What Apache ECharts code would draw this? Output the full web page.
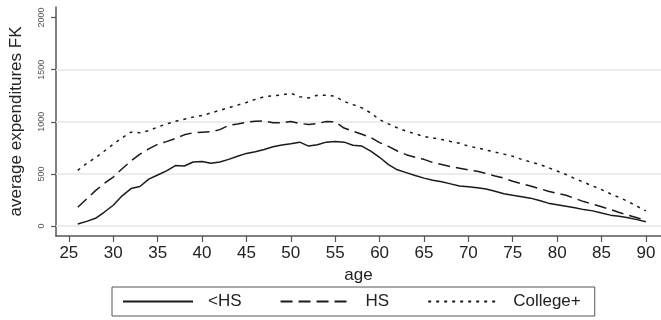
<!DOCTYPE html>
<html>
<head>
<meta charset="utf-8">
<script src="https://cdn.jsdelivr.net/npm/echarts@6/dist/echarts.min.js"></script>
<style>html,body{margin:0;padding:0;background:#fff}#c{width:661px;height:320px}</style>
</head>
<body>
<div id="c"></div>
<script>
const ages = [];
for (let a = 26; a <= 90; a++) ages.push(a);
const lessHS = [20,45,75,135,200,290,360,380,450,490,530,580,576,615,620,602,615,640,670,697,712,735,760,778,790,805,767,780,805,812,805,775,767,719,660,590,540,513,485,460,440,425,405,385,378,368,355,335,310,295,282,268,245,220,205,190,175,158,146,125,105,95,80,62,41];
const hs = [181,260,340,410,470,550,624,690,740,785,810,840,875,895,901,905,925,965,980,996,1005,1009,990,990,1003,985,974,984,1003,1000,940,910,880,850,800,765,720,685,660,640,610,590,570,555,540,525,505,480,460,430,405,385,360,335,315,295,265,235,210,185,160,131,105,80,51];
const college = [535,600,656,720,785,847,901,895,915,950,980,1005,1025,1045,1060,1085,1110,1135,1160,1185,1215,1240,1250,1258,1274,1240,1229,1254,1254,1245,1195,1165,1134,1085,1020,980,942,910,885,860,845,830,812,795,767,750,729,710,690,670,640,615,592,560,528,495,455,420,385,350,310,274,235,190,146];
const xTicks = [25,30,35,40,45,50,55,60,65,70,75,80,85,90];
const yTicks = [0,500,1000,1500,2000];
const gridVals = [0,500,1000,1500];
const seriesNames = ['<HS','HS','College+'];

const FONT = 'Liberation Sans, Arial, Helvetica, sans-serif';
const pair = arr => ages.map((a,i)=>[a,arr[i]]);
const chart = echarts.init(document.getElementById('c'), null, {renderer:'canvas'});
const lineCol = '#1a1a1a';
chart.setOption({
  animation:false,
  backgroundColor:'#fff',
  grid:{left:53,right:0,top:7,bottom:84,containLabel:false},
  xAxis:{
    type:'value', min:23.55, max:91.7,
    name:'age', nameLocation:'middle', nameGap:28,
    nameTextStyle:{fontFamily:FONT,fontSize:17,color:'#222'},
    axisLine:{onZero:false,lineStyle:{color:'#555',width:1.5}},
    axisTick:{show:true,length:6,customValues:xTicks,lineStyle:{color:'#555',width:1.2}},
    axisLabel:{customValues:xTicks,fontFamily:FONT,fontSize:17,color:'#222',margin:9},
    splitLine:{show:false}
  },
  yAxis:{
    type:'value', min:-95, max:2101,
    name:'average expenditures FK', nameLocation:'middle', nameGap:31,
    nameTextStyle:{fontFamily:FONT,fontSize:17,color:'#222'},
    axisLine:{show:true,onZero:false,lineStyle:{color:'#555',width:1.5}},
    axisTick:{show:true,length:5,customValues:yTicks,lineStyle:{color:'#555',width:1.2}},
    axisLabel:{customValues:yTicks,rotate:90,fontFamily:FONT,fontSize:9,color:'#555',margin:10,
      formatter:v=>String(v)},
    splitLine:{show:false}
  },
  legend:{
    left:112, top:287,
    padding:[6,14,6,10],
    borderColor:'#555', borderWidth:1,
    itemWidth:70, itemHeight:14, itemGap:38,
    itemStyle:{opacity:0},
    textStyle:{fontFamily:FONT,fontSize:17,color:'#222',padding:[0,0,0,10]},
    data:seriesNames
  },
  series:[
    {name:'grid',type:'line',data:[],silent:true,
     markLine:{silent:true,symbol:'none',label:{show:false},
       lineStyle:{color:'#e6e6e6',width:1.5,type:'solid'},
       data:gridVals.map(v=>({yAxis:v}))}},
    {name:seriesNames[0],type:'line',data:pair(lessHS),showSymbol:false,symbol:'none',
     lineStyle:{color:lineCol,width:1.5,type:'solid'},itemStyle:{color:lineCol},z:5},
    {name:seriesNames[1],type:'line',data:pair(hs),showSymbol:false,symbol:'none',
     lineStyle:{color:lineCol,width:1.5,type:[12,6]},itemStyle:{color:lineCol},z:5},
    {name:seriesNames[2],type:'line',data:pair(college),showSymbol:false,symbol:'none',
     lineStyle:{color:lineCol,width:1.5,type:[3,5]},itemStyle:{color:lineCol},z:5}
  ]
});
</script>
</body>
</html>
